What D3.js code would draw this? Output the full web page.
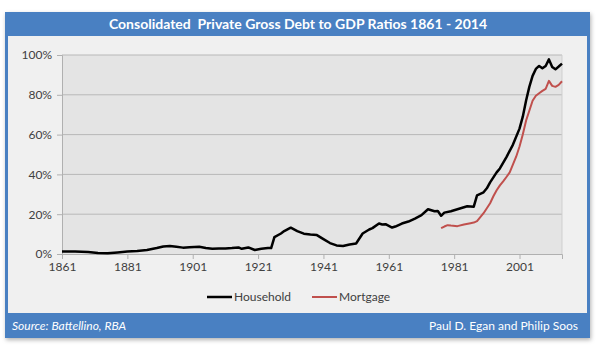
<!DOCTYPE html>
<html>
<head>
<meta charset="utf-8">
<script src="https://cdn.jsdelivr.net/npm/d3@7"></script>
<style>
  body { margin: 0; background: #fff; }
  svg { display: block; }
</style>
</head>
<body>
<svg id="chart"></svg>
<script>
// Household debt to GDP, %
const householdYears = [1861, 1865, 1869, 1872, 1875, 1878, 1881, 1884, 1887, 1890, 1892, 1894, 1896, 1898, 1900,
  1903, 1905, 1907, 1909, 1911, 1913, 1915, 1916, 1918, 1920, 1922, 1924, 1925, 1926, 1928, 1929, 1931, 1933,
  1935, 1937, 1939, 1941, 1943, 1945, 1947, 1949, 1951, 1953, 1955, 1956, 1958, 1959, 1960, 1962, 1963, 1965,
  1967, 1969, 1971, 1973, 1974, 1975, 1976, 1977, 1978, 1980, 1981, 1983, 1985, 1987, 1988, 1990, 1991, 1992,
  1994, 1995, 1997, 1999, 2001, 2002, 2003, 2004, 2005, 2006, 2007, 2008, 2009, 2010, 2011, 2012, 2013, 2014];
const householdValues = [1.2, 1.2, 1.0, 0.5, 0.4, 0.8, 1.2, 1.5, 2.0, 3.0, 3.8, 4.0, 3.6, 3.2, 3.4,
  3.6, 3.0, 2.6, 2.8, 2.8, 3.0, 3.3, 2.6, 3.3, 2.0, 2.6, 3.0, 3.0, 8.5, 10.3, 11.5, 13.2, 11.5,
  10.2, 9.8, 9.5, 7.5, 5.5, 4.3, 4.0, 4.8, 5.3, 10.3, 12.3, 13.0, 15.3, 14.8, 15.0, 13.3, 13.8, 15.3,
  16.3, 17.8, 19.5, 22.5, 22.0, 21.5, 21.6, 19.2, 20.8, 21.5, 22.0, 23.0, 24.0, 23.8, 29.5, 31.0, 33.0, 36.0,
  41.0, 43.0, 48.7, 55.0, 63.0, 69.0, 77.0, 84.0, 89.5, 93.0, 94.5, 93.3, 94.5, 97.8, 94.0, 92.8, 94.2, 95.7];

// Mortgage debt to GDP, %
const mortgageYears = [1977, 1978, 1979, 1980, 1982, 1984, 1986, 1987, 1988, 1989, 1990, 1991, 1992, 1993, 1994,
  1995, 1996, 1997, 1998, 1999, 2000, 2001, 2002, 2003, 2004, 2005, 2006, 2007, 2008, 2009, 2010, 2011, 2012, 2013, 2014];
const mortgageValues = [13.0, 13.8, 14.5, 14.3, 14.0, 14.8, 15.5, 15.8, 16.5, 18.5, 20.5, 23.0, 25.5, 29.0, 32.0,
  34.5, 36.5, 38.7, 41.0, 45.0, 49.0, 54.0, 60.0, 67.0, 72.0, 77.0, 79.5, 80.8, 82.0, 83.0, 87.0, 84.5, 84.0, 85.0, 86.8];

const xTicks = [1861, 1881, 1901, 1921, 1941, 1961, 1981, 2001];
const yTicks = [0, 20, 40, 60, 80, 100];

const seriesNames = ["Household", "Mortgage"];
const seriesColors = ["#000000", "#c0504d"];

const titleText = "Consolidated  Private Gross Debt to GDP Ratios 1861 - 2014";
const sourceText = "Source: Battellino, RBA";
const authorText = "Paul D. Egan and Philip Soos";

const W = 600, H = 350;
const frame = { x: 5, y: 12, w: 585, h: 326 };
const margin = { top: 55, right: 38, bottom: 96, left: 62 };
const font = "Lato, 'Open Sans', sans-serif";

const svg = d3.select("#chart").attr("width", W).attr("height", H);

// drop shadow
const defs = svg.append("defs");
const f = defs.append("filter").attr("id", "shadow").attr("x", "-5%").attr("y", "-5%").attr("width", "110%").attr("height", "115%");
f.append("feDropShadow").attr("dx", 1).attr("dy", 2).attr("stdDeviation", 2).attr("flood-color", "#000").attr("flood-opacity", 0.3);

// outer frame
svg.append("rect")
  .attr("x", frame.x).attr("y", frame.y).attr("width", frame.w).attr("height", frame.h)
  .attr("fill", "#4a80c2").attr("filter", "url(#shadow)");

// chart area
svg.append("rect")
  .attr("x", frame.x + 3).attr("y", 36).attr("width", frame.w - 6).attr("height", 277)
  .attr("fill", "#f0f0f0");

svg.append("text")
  .attr("x", W / 2 - 2).attr("y", 29)
  .attr("text-anchor", "middle")
  .attr("fill", "#fff")
  .style("font-family", font).style("font-size", "14px").style("font-weight", "bold")
  .attr("xml:space", "preserve")
  .text(titleText);

svg.append("text")
  .attr("x", 12).attr("y", 330)
  .attr("fill", "#fff")
  .style("font-family", font).style("font-size", "12px").style("font-style", "italic")
  .text(sourceText);

svg.append("text")
  .attr("x", 578).attr("y", 330)
  .attr("text-anchor", "end")
  .attr("fill", "#fff")
  .style("font-family", font).style("font-size", "12px")
  .text(authorText);

const width = W - margin.left - margin.right;
const height = H - margin.top - margin.bottom;

const chart = svg.append("g").attr("transform", `translate(${margin.left},${margin.top})`);

const xScale = d3.scaleLinear().domain([1861, 2014]).range([0, width]);
const yScale = d3.scaleLinear().domain([0, 100]).range([height, 0]);

// plot area
chart.append("rect")
  .attr("width", width).attr("height", height)
  .attr("fill", "#e4e4e4");

// gridlines
chart.append("g")
  .selectAll("line")
  .data(yTicks.filter(d => d > 0))
  .join("line")
  .attr("x1", 0).attr("x2", width)
  .attr("y1", d => yScale(d)).attr("y2", d => yScale(d))
  .attr("stroke", "#b8b8b8").attr("stroke-width", 1);

chart.append("line")
  .attr("x1", width).attr("x2", width).attr("y1", 0).attr("y2", height)
  .attr("stroke", "#cfcfcf");

// axes
const yAxis = d3.axisLeft(yScale).tickValues(yTicks).tickSize(5).tickPadding(5).tickFormat(d => d + "%");
const yAxisG = chart.append("g").call(yAxis);
yAxisG.select(".domain").attr("stroke", "#b0b0b0");
yAxisG.selectAll(".tick line").attr("stroke", "#b0b0b0");
yAxisG.selectAll("text").attr("fill", "#404040").style("font-family", font).style("font-size", "12px");

const xAxis = d3.axisBottom(xScale).tickValues(xTicks).tickSize(5).tickPadding(3).tickFormat(d3.format("d"));
const xAxisG = chart.append("g").attr("transform", `translate(0,${height})`).call(xAxis);
xAxisG.select(".domain").attr("stroke", "#b0b0b0");
xAxisG.selectAll(".tick line").attr("stroke", "#b0b0b0");
xAxisG.selectAll("text").attr("fill", "#404040").style("font-family", font).style("font-size", "12px");

// lines
const line = d3.line()
  .x(d => xScale(d[0]))
  .y(d => yScale(d[1]));

const household = householdYears.map((y, i) => [y, householdValues[i]]);
const mortgage = mortgageYears.map((y, i) => [y, mortgageValues[i]]);

chart.append("path")
  .datum(mortgage)
  .attr("fill", "none")
  .attr("stroke", seriesColors[1])
  .attr("stroke-width", 2)
  .attr("stroke-linejoin", "round")
  .attr("d", line);

chart.append("path")
  .datum(household)
  .attr("fill", "none")
  .attr("stroke", seriesColors[0])
  .attr("stroke-width", 2.5)
  .attr("stroke-linejoin", "round")
  .attr("d", line);

// legend
const legend = svg.append("g").attr("transform", "translate(207,297)");
const legendX = [0, 105];
seriesNames.forEach((name, i) => {
  const g = legend.append("g").attr("transform", `translate(${legendX[i]},0)`);
  g.append("line").attr("x1", 0).attr("x2", 25).attr("y1", 0).attr("y2", 0)
    .attr("stroke", seriesColors[i]).attr("stroke-width", i === 0 ? 2.5 : 2);
  g.append("text").attr("x", 27).attr("y", 4)
    .attr("fill", "#404040")
    .style("font-family", font).style("font-size", "12px")
    .text(name);
});
</script>
</body>
</html>
